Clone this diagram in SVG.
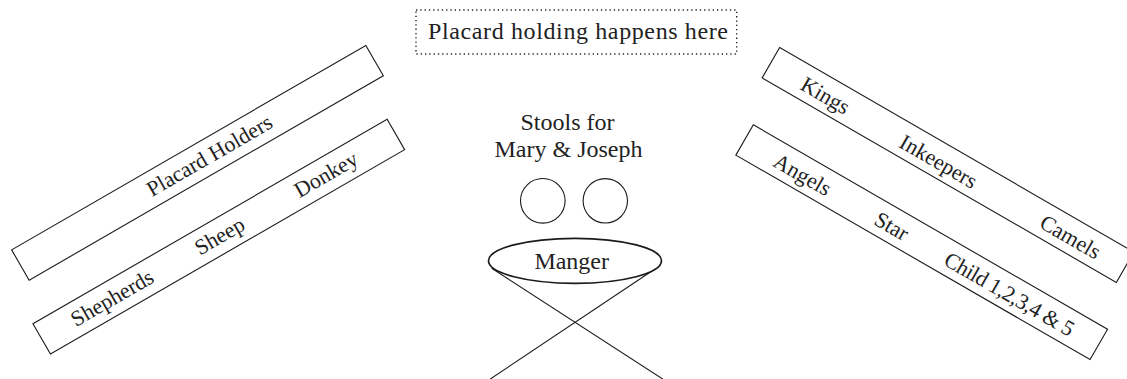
<svg xmlns="http://www.w3.org/2000/svg" width="1127" height="379" viewBox="0 0 1127 379">
  <style>
    .band { fill: #ffffff; stroke: #1a1a1a; stroke-width: 1.1; }
    .shape { fill: none; stroke: #1a1a1a; stroke-width: 1.1; }
    .lbl { font-family: "Liberation Serif", "Times New Roman", serif; font-size: 24px; fill: #222222; text-anchor: middle; }
    .blbl { font-family: "Liberation Serif", "Times New Roman", serif; font-size: 22px; fill: #222222; text-anchor: middle; }
  </style>
  <rect width="1127" height="379" fill="#ffffff"/>

  <g id="placard-area">
    <rect x="416" y="10" width="320.7" height="44" fill="none" stroke="#222222" stroke-width="1.4" stroke-dasharray="1.3 3" stroke-linecap="butt"/>
    <text class="lbl" x="578" y="39" textLength="300">Placard holding happens here</text>
  </g>

  <g id="placard-holders" transform="translate(197.5,162.8) rotate(-30)">
    <rect class="band" x="-204.5" y="-17.5" width="409" height="35"/>
    <text class="blbl" x="14" y="7">Placard Holders</text>
  </g>

  <g id="shepherds-band" transform="translate(218.8,236.7) rotate(-30)">
    <rect class="band" x="-204.5" y="-17.5" width="409" height="35"/>
    <text class="blbl" x="-123" y="7">Shepherds</text>
    <text class="blbl" x="1" y="7">Sheep</text>
    <text class="blbl" x="124" y="7">Donkey</text>
  </g>

  <g id="kings-band" transform="translate(948,165) rotate(30)">
    <rect class="band" x="-204.5" y="-17.5" width="409" height="35"/>
    <text class="blbl" x="-141" y="8.5">Kings</text>
    <text class="blbl" x="-10" y="9">Inkeepers</text>
    <text class="blbl" x="142" y="8.5">Camels</text>
  </g>

  <g id="angels-band" transform="translate(921.7,242.2) rotate(30)">
    <rect class="band" x="-204.5" y="-17.5" width="409" height="35"/>
    <text class="blbl" x="-137" y="8.5">Angels</text>
    <text class="blbl" x="-34" y="8.5">Star</text>
    <text class="blbl" x="102" y="8.5" textLength="146">Child 1,2,3,4 &amp; 5</text>
  </g>

  <g id="stools">
    <text class="lbl" x="567.5" y="130">Stools for</text>
    <text class="lbl" x="568.5" y="157">Mary &amp; Joseph</text>
    <circle class="shape" cx="542.8" cy="200.8" r="22.3"/>
    <circle class="shape" cx="605.3" cy="200.8" r="22.2"/>
  </g>

  <g id="manger">
    <line class="shape" x1="491.7" y1="268.3" x2="663" y2="379.2"/>
    <line class="shape" x1="658.3" y1="266.7" x2="490" y2="379.2"/>
    <ellipse cx="575" cy="260.8" rx="86.5" ry="22.5" fill="#ffffff" stroke="#1a1a1a" stroke-width="1.7"/>
    <text class="lbl" x="571.7" y="269">Manger</text>
  </g>
</svg>
